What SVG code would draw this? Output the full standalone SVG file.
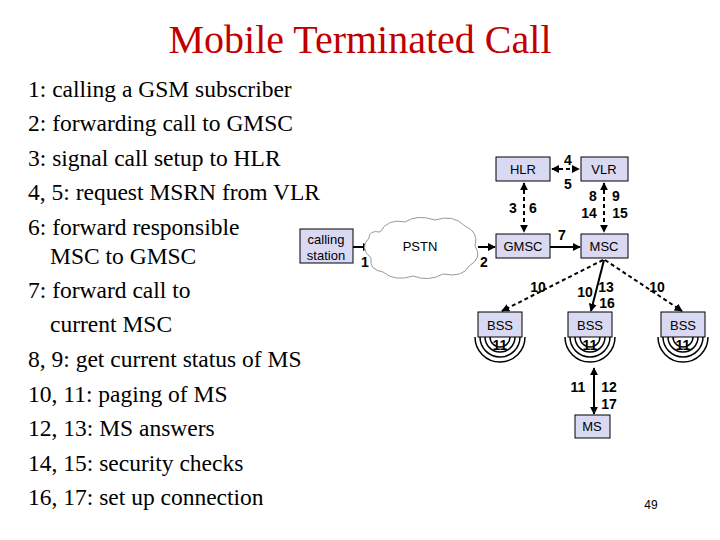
<svg xmlns="http://www.w3.org/2000/svg" width="720" height="540" viewBox="0 0 720 540">
<style>
.t{font-family:"Liberation Serif",serif;font-size:23.5px;fill:#000}
.b{fill:#d9d9f3;stroke:#000;stroke-width:1}
.n{font-family:"Liberation Sans",sans-serif;font-size:13px;text-anchor:middle}
.l{font-family:"Liberation Sans",sans-serif;font-size:14px;font-weight:bold;text-anchor:middle}
.s{stroke:#000;stroke-width:2;fill:none}
.d{stroke:#000;stroke-width:2;fill:none;stroke-dasharray:4,3}
.w{stroke:#000;stroke-width:1.5;fill:none}
</style>
<defs><marker id="a" viewBox="0 0 10 10" refX="9" refY="5" markerWidth="4" markerHeight="4" orient="auto-start-reverse"><path d="M0,0L10,5L0,10z"/></marker></defs>
<text x="360" y="53" font-family="Liberation Serif,serif" font-size="40" fill="#c00000" text-anchor="middle">Mobile Terminated Call</text>
<g class="t">
<text x="28" y="97">1: calling a GSM subscriber</text>
<text x="28" y="131">2: forwarding call to GMSC</text>
<text x="28" y="166">3: signal call setup to HLR</text>
<text x="28" y="200">4, 5: request MSRN from VLR</text>
<text x="28" y="235">6: forward responsible</text>
<text x="50" y="264">MSC to GMSC</text>
<text x="28" y="298">7: forward call to</text>
<text x="50" y="332">current MSC</text>
<text x="28" y="367">8, 9: get current status of MS</text>
<text x="28" y="402">10, 11: paging of MS</text>
<text x="28" y="436">12, 13: MS answers</text>
<text x="28" y="471">14, 15: security checks</text>
<text x="28" y="505">16, 17: set up connection</text>
</g>
<g id="connectors">
<line class="s" x1="353" y1="247" x2="370" y2="247" marker-end="url(#a)"/>
<line class="s" x1="478" y1="247" x2="495" y2="247" marker-end="url(#a)"/>
<line class="s" x1="550" y1="247" x2="580" y2="247" marker-end="url(#a)"/>
<line class="d" x1="552" y1="169" x2="579" y2="169" marker-start="url(#a)" marker-end="url(#a)"/>
<line class="d" x1="524" y1="183" x2="524" y2="232" marker-start="url(#a)" marker-end="url(#a)"/>
<line class="d" x1="604" y1="183" x2="604" y2="232" marker-start="url(#a)" marker-end="url(#a)"/>
<line class="d" x1="603" y1="260" x2="502" y2="311" marker-end="url(#a)"/>
<line class="s" x1="604" y1="260" x2="591" y2="311" marker-end="url(#a)"/>
<line class="d" x1="605" y1="260" x2="682" y2="311" marker-end="url(#a)"/>
<line class="s" x1="594" y1="368" x2="594" y2="414" marker-start="url(#a)" marker-end="url(#a)"/>
<g class="l">
<text x="365" y="267">1</text><text x="484" y="267">2</text><text x="562" y="240">7</text>
<text x="568" y="165">4</text><text x="568" y="189">5</text>
<text x="513" y="213">3</text><text x="533" y="213">6</text>
<text x="593" y="201">8</text><text x="616" y="201">9</text>
<text x="589" y="218">14</text><text x="620" y="218">15</text>
<text x="538" y="292">10</text><text x="585" y="297">10</text><text x="606" y="292">13</text>
<text x="607" y="308">16</text><text x="657" y="292">10</text>
<text x="578" y="392">11</text><text x="609" y="392">12</text><text x="609" y="409">17</text>
</g>
</g>
<g id="calling"><rect class="b" x="300" y="229" width="53" height="34"/><text class="n" x="326" y="244">calling</text><text class="n" x="326" y="260">station</text></g>
<g id="pstn"><path d="M380,232 q8,-14 25,-10 q12,-8 30,-2 q18,-6 30,6 q14,6 10,20 q8,12 -6,20 q-6,12 -26,8 q-14,8 -30,2 q-18,6 -30,-4 q-14,-2 -12,-14 q-12,-10 -2,-20 q0,-8 11,-6z" fill="#fff" stroke="#999" stroke-width="1"/><text class="n" x="420" y="251">PSTN</text></g>
<g id="hlr"><rect class="b" x="496" y="157" width="54" height="24"/><text class="n" x="523" y="174">HLR</text></g>
<g id="vlr"><rect class="b" x="581" y="157" width="47" height="24"/><text class="n" x="604" y="174">VLR</text></g>
<g id="gmsc"><rect class="b" x="496" y="234" width="54" height="24"/><text class="n" x="523" y="251">GMSC</text></g>
<g id="msc"><rect class="b" x="581" y="234" width="47" height="24"/><text class="n" x="604" y="251">MSC</text></g>
<g id="bss1"><path class="w" d="M490,337 a10,10 0 0 0 20,0 M485,337 a15,15 0 0 0 30,0 M480,337 a20,20 0 0 0 40,0 M475,337 a25,25 0 0 0 50,0"/><rect class="b" x="478" y="312" width="44" height="25"/><text class="n" x="500" y="330">BSS</text><text class="l" x="500" y="350">11</text></g>
<g id="bss2"><path class="w" d="M580,337 a10,10 0 0 0 20,0 M575,337 a15,15 0 0 0 30,0 M570,337 a20,20 0 0 0 40,0 M565,337 a25,25 0 0 0 50,0"/><rect class="b" x="568" y="312" width="44" height="25"/><text class="n" x="590" y="330">BSS</text><text class="l" x="590" y="350">11</text></g>
<g id="bss3"><path class="w" d="M673,337 a10,10 0 0 0 20,0 M668,337 a15,15 0 0 0 30,0 M663,337 a20,20 0 0 0 40,0 M658,337 a25,25 0 0 0 50,0"/><rect class="b" x="661" y="312" width="44" height="25"/><text class="n" x="683" y="330">BSS</text><text class="l" x="683" y="350">11</text></g>
<g id="ms"><rect class="b" x="575" y="415" width="35" height="23"/><text class="n" x="592" y="431">MS</text></g>
<text x="651" y="509" font-family="Liberation Sans,sans-serif" font-size="12" text-anchor="middle">49</text>
</svg>
